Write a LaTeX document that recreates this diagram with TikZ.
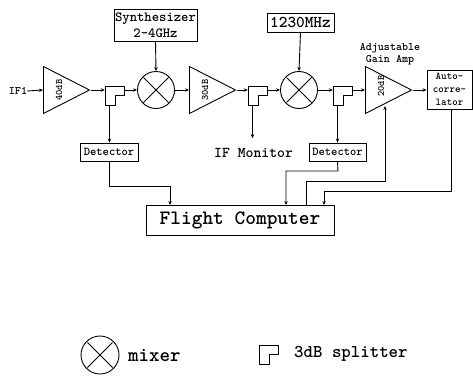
\documentclass[tikz,border=0pt]{standalone}
\usetikzlibrary{shapes.geometric,arrows.meta}
\tikzset{
 lin/.style={line width=0.9pt,line join=miter},
 conn/.style={lin,-{Stealth[length=4pt,width=3.4pt]}},
 box/.style={draw,lin,rectangle,inner sep=0pt,align=center},
 amp/.style={draw,lin,isosceles triangle,isosceles triangle stretches,inner sep=0pt,minimum width=47pt,minimum height=46pt,anchor=lower side},
 mix/.style={draw,lin,circle,inner sep=0pt,minimum size=37pt,path picture={
   \draw[line width=.8pt] (path picture bounding box.center) +(-12.5pt,-12.5pt) -- +(12.5pt,12.5pt) +(-12.5pt,12.5pt) -- +(12.5pt,-12.5pt);}},
 spl/.style={rectangle,inner sep=0pt,minimum size=19pt},
 gain/.style={font=\ttfamily\bfseries\fontsize{10}{10}\selectfont,rotate=90,inner sep=0pt},
 lab/.style={inner sep=0pt,align=center},
}
\newcommand\splshape[1]{\draw[lin,shift={(#1.center)}] (-9.5pt,9.5pt) -- (9.5pt,9.5pt) -- (9.5pt,0pt) -- (0.5pt,0pt) -- (0.5pt,-9.5pt) -- (-9.5pt,-9.5pt) -- cycle;}
\begin{document}
\begin{tikzpicture}[x=1pt,y=-1pt]
\useasboundingbox (0,0) rectangle (473,375);
% boxes
\node[box,minimum width=83pt,minimum height=32pt,font=\ttfamily\bfseries\fontsize{14}{15.5}\selectfont] (syn) at (155.5,25) {Synthesizer\\2\textendash 4GHz};
\node[box,minimum width=67pt,minimum height=19pt,font=\ttfamily\bfseries\fontsize{16.5}{15}\selectfont] (lo) at (300.5,22.5) {1230MHz};
\node[box,minimum width=58pt,minimum height=18pt,font=\ttfamily\bfseries\fontsize{12}{12}\selectfont] (det1) at (109,152) {Detector};
\node[box,minimum width=57pt,minimum height=18pt,font=\ttfamily\bfseries\fontsize{12}{12}\selectfont] (det2) at (337.5,152) {Detector};
\node[box,minimum width=45pt,minimum height=39pt,font=\ttfamily\bfseries\fontsize{10.5}{13}\selectfont] (auto) at (449.5,89.5) {Auto-\\corre-\\lator};
\node[box,minimum width=188pt,minimum height=30pt,font=\ttfamily\bfseries\fontsize{20.4}{20}\selectfont] (fc) at (240,220) {Flight Computer};
% amps
\node[amp] (a1) at (43,90) {};
\node[amp] (a2) at (189,90) {};
\node[amp] (a3) at (365,90) {};
\node[gain] (g1) at (59,90) {40dB};
\node[gain] (g2) at (205,90) {30dB};
\node[gain] (g3) at (381,86) {20dB};
% mixers
\node[mix] (m1) at (156,90) {};
\node[mix] (m2) at (299,90) {};
% splitters
\node[spl] (s1) at (114.5,95.5) {};
\node[spl] (s2) at (257.5,95.5) {};
\node[spl] (s3) at (342.5,95.5) {};
\splshape{s1}\splshape{s2}\splshape{s3}
% labels
\node[lab,font=\ttfamily\bfseries\fontsize{11.5}{12}\selectfont] (if1) at (18,91) {IF1};
\node[lab,font=\ttfamily\bfseries\fontsize{15}{15}\selectfont] (mon) at (253.5,153) {IF Monitor};
\node[lab,font=\ttfamily\bfseries\fontsize{11.5}{12}\selectfont] (adj) at (390,54) {Adjustable\\Gain Amp};
% signal chain
\draw[conn] (if1.east) -- (a1.lower side);
\draw[conn] (a1.apex) -- (a1.apex -| s1.west);
\draw[conn] (s1.east |- m1.west) -- (m1.west);
\draw[conn] (syn.south) -- (m1.north);
\draw[conn] (m1.east) -- (a2.lower side);
\draw[conn] (a2.apex) -- (a2.apex -| s2.west);
\draw[conn] (s2.east |- m2.west) -- (m2.west);
\draw[conn] (lo.south) -- (m2.north);
\draw[conn] (m2.east) -- (m2.east -| s3.west);
\draw[conn] (s3.east |- a3.lower side) -- (a3.lower side);
\draw[conn] (a3.apex) -- (a3.apex -| auto.west);
% detectors
\draw[conn] ([xshift=-5pt]s1.south) -- ([xshift=-5pt]s1.south |- det1.north);
\coordinate (monend) at ([xshift=-5pt,yshift=-33pt]s2.south);
\draw[conn] ([xshift=-5pt]s2.south) -- (monend);
\draw[conn] ([xshift=-5pt]s3.south) -- ([xshift=-5pt]s3.south |- det2.north);
% to and from the flight computer
\coordinate (fc1) at (170,205); \coordinate (fc2) at (286,205); \coordinate (fc3) at (306,205); \coordinate (fc4) at (324,205);
\coordinate (ctl) at (385,106);
\draw[conn] (det1.south) -- (109,186) -| (fc1);
\draw[conn] (det2.south) -- (338,171) -| (fc2);
\draw[conn] (fc3) -- (306,181) -| (ctl);
\draw[conn] ([xshift=1.5pt]auto.south) -- (451,191) -| (fc4);
% legend
\node[mix,minimum size=38pt] (lm) at (100,355) {};
\node[lab,font=\ttfamily\bfseries\fontsize{20}{18}\selectfont,anchor=west] (lmt) at (128,355) {mixer};
\node[spl] (ls) at (268.5,354.5) {};
\splshape{ls}
\node[lab,font=\ttfamily\bfseries\fontsize{18}{17}\selectfont,anchor=west] (lst) at (294,354) {3dB splitter};
\end{tikzpicture}
\end{document}
